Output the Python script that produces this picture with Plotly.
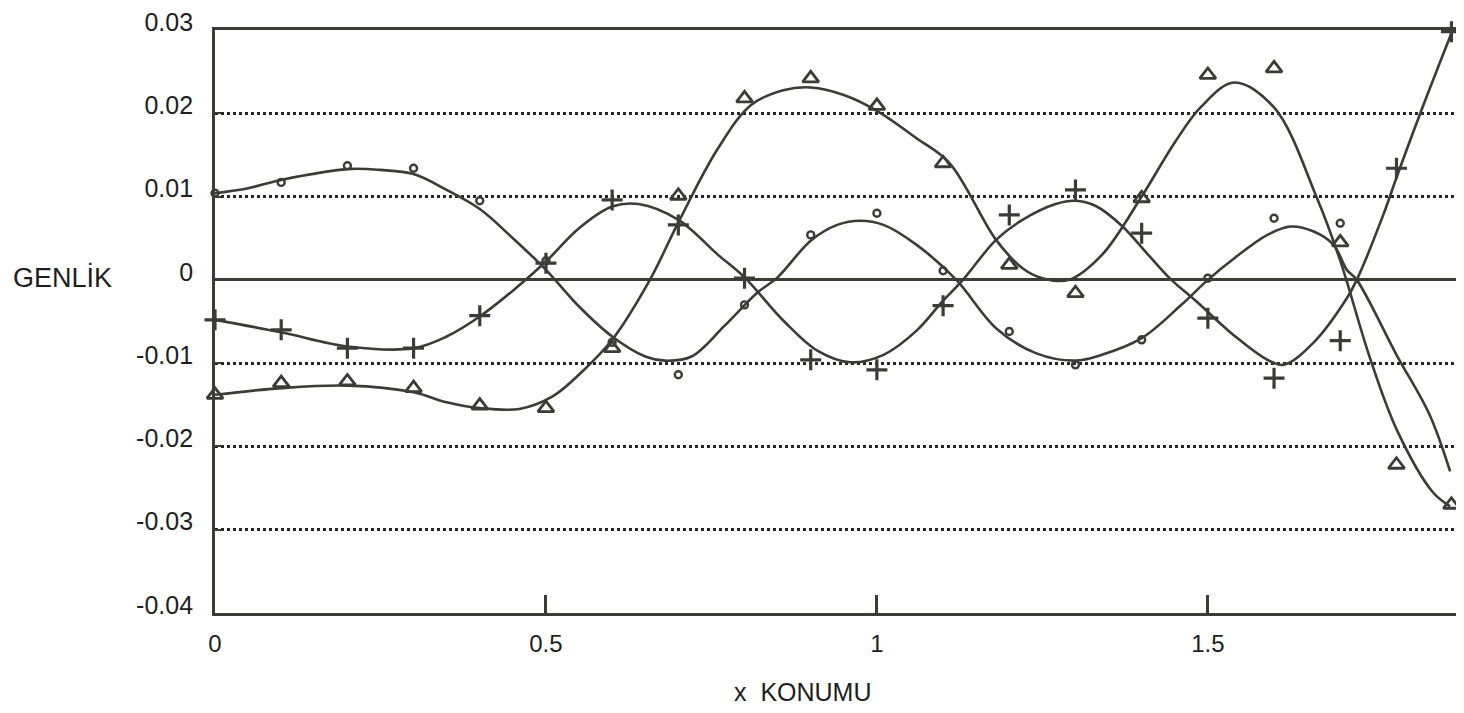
import plotly.graph_objects as go

# ---- smooth (theoretical) curves ----
circ_curve_x = [0.00, 0.05, 0.10, 0.20, 0.25, 0.30, 0.35, 0.40, 0.45, 0.50, 0.55, 0.60, 0.65, 0.68,
                0.72, 0.77, 0.82, 0.85, 0.90, 0.94, 0.975, 1.01, 1.06, 1.12, 1.18, 1.24, 1.30, 1.34,
                1.40, 1.46, 1.50, 1.54, 1.59, 1.625, 1.66, 1.69, 1.71, 1.725, 1.785, 1.835, 1.866]
circ_curve_y = [0.0104, 0.0110, 0.0120, 0.0133, 0.0132, 0.0127, 0.0108, 0.0085, 0.0050, 0.0012, -0.0032,
                -0.0068, -0.0092, -0.0097, -0.0092, -0.0055, -0.0015, 0.0003, 0.0047, 0.0066, 0.0071,
                0.0066, 0.0042, 0.0000, -0.0058, -0.0088, -0.0097, -0.0090, -0.0070, -0.0030, 0.0000,
                0.0026, 0.0054, 0.0064, 0.0058, 0.0042, 0.0012, 0.0000, -0.0090, -0.0162, -0.0230]

plus_curve_x = [0.00, 0.10, 0.20, 0.30, 0.35, 0.40, 0.45, 0.50, 0.55, 0.60, 0.64, 0.70, 0.76, 0.80,
                0.86, 0.91, 0.96, 1.01, 1.06, 1.10, 1.13, 1.18, 1.22, 1.27, 1.30, 1.33, 1.37, 1.41,
                1.445, 1.48, 1.54, 1.59, 1.615, 1.66, 1.71, 1.725, 1.765, 1.786, 1.82, 1.868]
plus_curve_y = [-0.0048, -0.0063, -0.0080, -0.0082, -0.0068, -0.0044, -0.0013, 0.0022, 0.0062, 0.0088,
                0.0091, 0.0072, 0.0030, 0.0003, -0.0050, -0.0085, -0.0099, -0.0090, -0.0061, -0.0025,
                0.0000, 0.0048, 0.0072, 0.0091, 0.0095, 0.0089, 0.0065, 0.0030, 0.0000, -0.0024,
                -0.0067, -0.0096, -0.0102, -0.0075, -0.0022, 0.0000, 0.0078, 0.0125, 0.0198, 0.0296]

tri_curve_x = [0.00, 0.10, 0.20, 0.30, 0.35, 0.40, 0.46, 0.51, 0.555, 0.60, 0.657, 0.70, 0.76, 0.81,
               0.86, 0.90, 0.95, 1.00, 1.06, 1.11, 1.18, 1.22, 1.25, 1.29, 1.34, 1.40, 1.45, 1.49,
               1.54, 1.60, 1.665, 1.70, 1.745, 1.786, 1.84, 1.866]
tri_curve_y = [-0.0138, -0.0130, -0.0127, -0.0135, -0.0147, -0.0154, -0.0155, -0.0140, -0.0110, -0.0072,
               0.0000, 0.0069, 0.0158, 0.0210, 0.0228, 0.0231, 0.0222, 0.0203, 0.0170, 0.0140, 0.0048,
               0.0014, 0.0002, 0.0000, 0.0030, 0.0100, 0.0165, 0.0208, 0.0237, 0.0207, 0.0098, 0.0023,
               -0.0094, -0.0181, -0.0255, -0.0272]

# ---- measured points (markers) ----
marker_x = [0.0, 0.1, 0.2, 0.3, 0.4, 0.5, 0.6, 0.7, 0.8, 0.9, 1.0, 1.1, 1.2, 1.3, 1.4, 1.5, 1.6, 1.7,
            1.785, 1.868]
circ_pts = [0.0104, 0.0117, 0.0137, 0.0134, 0.0095, 0.0023, -0.0075, -0.0114, -0.0030, 0.0054, 0.0080,
            0.0011, -0.0062, -0.0102, -0.0072, 0.0002, 0.0074, 0.0068, None, None]
plus_pts = [-0.0048, -0.0060, -0.0082, -0.0082, -0.0043, 0.0020, 0.0096, 0.0066, 0.0002, -0.0096,
            -0.0108, -0.0031, 0.0078, 0.0108, 0.0056, -0.0046, -0.0118, -0.0073, 0.0134, 0.0298]
tri_pts = [-0.0138, -0.0124, -0.0122, -0.0130, -0.0151, -0.0154, -0.0082, 0.0101, 0.0218, 0.0242,
           0.0209, 0.0140, 0.0018, -0.0016, 0.0098, 0.0246, 0.0254, 0.0045, -0.0222, -0.0270]

y_ticks = [0.03, 0.02, 0.01, 0, -0.01, -0.02, -0.03, -0.04]
y_tick_text = ["0.03", "0.02", "0.01", "0", "-0.01", "-0.02", "-0.03", "-0.04"]
x_ticks = [0, 0.5, 1, 1.5]
x_tick_text = ["0", "0.5", "1", "1.5"]

INK = "#3a3d36"
TXT = "#1e1e1e"
FONT = "Liberation Sans, Arial, sans-serif"

fig = go.Figure()
for cx, cy in [(circ_curve_x, circ_curve_y), (plus_curve_x, plus_curve_y), (tri_curve_x, tri_curve_y)]:
    fig.add_trace(go.Scatter(x=cx, y=cy, mode="lines", line=dict(color=INK, width=2.6, shape="spline",
                                                                 smoothing=1.0),
                             showlegend=False, hoverinfo="skip", cliponaxis=False))

fig.add_trace(go.Scatter(x=marker_x, y=circ_pts, mode="markers",
                         marker=dict(symbol="circle-open", size=7, color=INK, line=dict(width=2.4, color=INK)),
                         showlegend=False, cliponaxis=False))
fig.add_trace(go.Scatter(x=marker_x, y=plus_pts, mode="markers",
                         marker=dict(symbol="cross-thin-open", size=15, color=INK, line=dict(width=3.2, color=INK)),
                         showlegend=False, cliponaxis=False))
fig.add_trace(go.Scatter(x=marker_x, y=tri_pts, mode="markers",
                         marker=dict(symbol="triangle-up-open", size=14, color=INK, line=dict(width=2.8, color=INK)),
                         showlegend=False, cliponaxis=False))

fig.update_layout(
    width=1464, height=713,
    margin=dict(l=207, r=8, t=22, b=108),
    paper_bgcolor="white", plot_bgcolor="white",
    font=dict(family=FONT, size=25, color=TXT),
    xaxis=dict(range=[0, 1.887], tickvals=x_ticks, ticktext=x_tick_text, automargin=False,
               showgrid=False, zeroline=False, showline=True, mirror=True, linecolor=INK, linewidth=2.6,
               ticks="inside", ticklen=18, tickwidth=2.6, tickcolor=INK,
               ticklabelstandoff=7, tickfont=dict(size=24, family=FONT, color=TXT)),
    yaxis=dict(range=[-0.04, 0.03], tickvals=y_ticks, ticktext=y_tick_text, automargin=False,
               showgrid=True, gridcolor="#262626", gridwidth=3, griddash="dot",
               zeroline=True, zerolinecolor=INK, zerolinewidth=2.6,
               showline=True, linecolor=INK, linewidth=2.8,
               ticks="inside", ticklen=6, tickwidth=2, tickcolor=INK,
               ticklabelstandoff=14, ticklabelshift=-8, ticklabeloverflow="allow",
               tickfont=dict(size=25, family=FONT, color=TXT)),
    annotations=[
        dict(text="GENLİK", xref="paper", yref="y", x=(62 - 215) / 1249, y=0, yshift=2,
             xanchor="center", yanchor="middle",
             showarrow=False, font=dict(size=27, family=FONT, color=TXT)),
        dict(text="x  KONUMU", xref="paper", yref="paper", x=(803 - 215) / 1249, y=-(692 - 613) / 583,
             xanchor="center", yanchor="middle",
             showarrow=False, font=dict(size=25, family=FONT, color=TXT)),
    ],
)

fig.write_html("out.html")
